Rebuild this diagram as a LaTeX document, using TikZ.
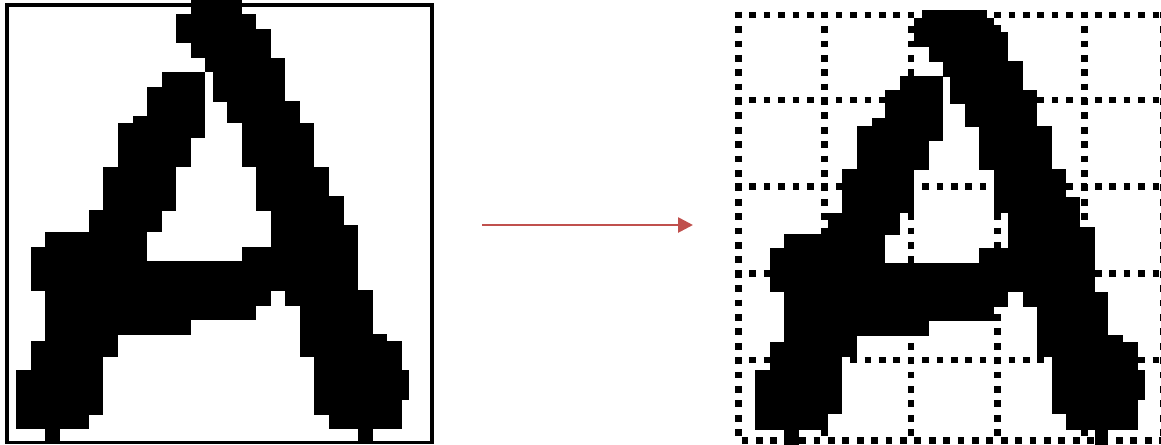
\documentclass[tikz,border=0pt]{standalone}
\usetikzlibrary{arrows.meta}

\definecolor{arrowred}{HTML}{C0504D}

\begin{document}
\begin{tikzpicture}[
    x=0.02cm, y=-0.02cm,
    pix/.style={fill=black},
    frame/.style={draw=black, line width=0.074cm},
    gridline/.style={draw=black, line width=0.134cm, dash pattern=on 0.134cm off 0.154cm},
    arrow/.style={-{Triangle[length=0.3cm, width=0.3cm]}, line width=0.054cm, arrowred}
]
\useasboundingbox (0,0) rectangle (1161,444);

% Left: original bitmap in a frame
\draw[frame] (7,5) rectangle (432,442.5);
\foreach \ya/\yb/\xa/\xb in {
    0/14/191/241.7, 14/29/176/256, 29/42.7/176/270.7, 42.7/57.7/191/270.7,
    57.7/71.7/205/285,
    71.7/86.7/162.3/205, 71.7/86.7/212.7/285,
    86.7/101/147/205, 86.7/101/212.7/285,
    101/116/147/205, 101/116/227/300,
    116/122.7/133.3/205, 116/122.7/227/300,
    122.7/137.7/118.3/205, 122.7/137.7/242/314,
    137.7/166.7/118.3/191, 137.7/166.7/242/314,
    166.7/195.7/103/176, 166.7/195.7/256/329,
    195.7/210/103/176, 195.7/210/256/344,
    210/225/89/162, 210/225/271/344,
    225/231.7/89/162, 225/231.7/271/358,
    231.7/246.7/45/147, 231.7/246.7/271/358,
    246.7/260.7/31/147, 246.7/260.7/242/358,
    260.7/290/31/358,
    290/305/45/271, 290/305/285/373,
    305/319/45/256, 305/319/300/373,
    319/334/45/191, 319/334/300/373,
    334/341/45/118, 334/341/300/387,
    341/356/31/118, 341/356/300/402,
    356/370/31/103, 356/370/314/402,
    370/399/16/103, 370/399/314/409,
    399/414/16/103, 399/414/314/402,
    414/428/16/89, 414/428/329/402,
    428/442/45/60, 428/442/358/373}
  \fill[pix] (\xa,\ya) rectangle (\xb,\yb+0.6);

% Arrow between the two pictures
\coordinate (src) at (482,225);
\coordinate (dst) at (693,225);
\draw[arrow] (src) -- (dst);

% Right: same bitmap with a 5x5 grid on top
\foreach \ya/\yb/\xa/\xb in {
    10/18.3/922/986.7, 18.3/25/914.3/994, 25/32.3/914.3/1001,
    32.3/46.7/914.3/1008, 46.7/61/929/1008, 61/76/943/1022.7,
    76/90/900/943, 76/90/950/1022.7,
    90/103.3/885.3/943, 90/103.3/950/1036.7,
    103.3/118.3/885.3/943, 103.3/118.3/965/1036.7,
    118.3/126/871.7/943, 118.3/126/965/1036.7,
    126/140/857.3/943, 126/140/979.3/1051.7,
    140/169/857.3/929, 140/169/979.3/1051.7,
    169/196.7/842.3/914.3, 169/196.7/994/1066,
    196.7/212.7/842.3/914.3, 196.7/212.7/994/1080,
    212.7/227.3/828.3/900, 212.7/227.3/1007.7/1080,
    227.3/234.3/828.3/900, 227.3/234.3/1007.7/1095,
    234.3/248.3/784/885, 234.3/248.3/1007.7/1095,
    248.3/263.3/770/885, 248.3/263.3/979.3/1095,
    263.3/291.7/770/1095,
    291.7/306/784/1007.7, 291.7/306/1022.7/1108.3,
    306/320.7/784/994, 306/320.7/1036.7/1108.3,
    320.7/335/784/929, 320.7/335/1036.7/1108.3,
    335/341.7/784/856.7, 335/341.7/1036.7/1123.3,
    341.7/356.7/770/856.7, 341.7/356.7/1036.7/1137.7,
    356.7/370/770/842.3, 356.7/370/1051.7/1137.7,
    370/399/755/842.3, 370/399/1051.7/1145,
    399/413.3/755/842.3, 399/413.3/1051.7/1137.7,
    413.3/429.3/755/827.7, 413.3/429.3/1066/1137.7,
    429.3/444/784/799, 429.3/444/1095/1108.3}
  \fill[pix] (\xa,\ya) rectangle (\xb,\yb+0.6);

\foreach \gy in {15, 100, 186.7, 273.3, 360}
  \draw[gridline] (735,\gy) -- (1175,\gy);
\draw[gridline] (741.7,440.3) -- (1175,440.3);
\foreach \gx in {738.3, 824.4, 911, 997.3, 1084.3, 1163}
  \draw[gridline] (\gx,11.7) -- (\gx,436.8);

\end{tikzpicture}
\end{document}
